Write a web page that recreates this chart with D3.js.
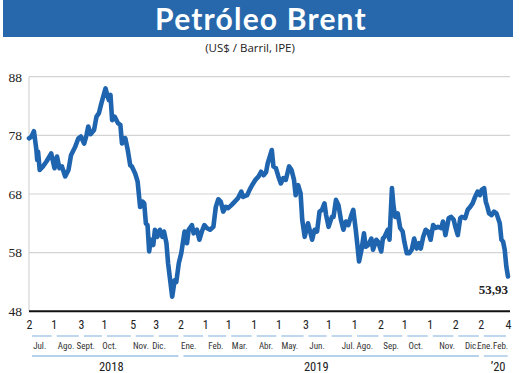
<!DOCTYPE html>
<html>
<head>
<meta charset="utf-8">
<script src="https://cdn.jsdelivr.net/npm/d3@7"></script>
<style>
  html, body { margin: 0; padding: 0; background: #fff; }
  svg { display: block; }
</style>
</head>
<body>
<div id="chart"></div>
<script>
// ---- data ----
const title = "Petróleo Brent";
const subtitle = "(US$ / Barril, IPE)";
const dates = [
"2018-07-02","2018-07-05","2018-07-08","2018-07-11","2018-07-12","2018-07-13","2018-07-15","2018-07-19","2018-07-23","2018-07-29",
"2018-08-02","2018-08-05","2018-08-08","2018-08-11","2018-08-15","2018-08-19","2018-08-22","2018-08-27","2018-08-31",
"2018-09-03","2018-09-07","2018-09-10","2018-09-12","2018-09-15","2018-09-19","2018-09-22","2018-09-25","2018-09-28",
"2018-10-03","2018-10-05","2018-10-07","2018-10-09","2018-10-11","2018-10-14","2018-10-18","2018-10-21","2018-10-23","2018-10-27","2018-10-30",
"2018-11-02","2018-11-04","2018-11-08","2018-11-11","2018-11-14","2018-11-17","2018-11-19","2018-11-21","2018-11-23","2018-11-25","2018-11-27","2018-11-30",
"2018-12-02","2018-12-05","2018-12-08","2018-12-11","2018-12-13","2018-12-16","2018-12-18","2018-12-20","2018-12-23","2018-12-26","2018-12-28","2018-12-31",
"2019-01-03","2019-01-07","2019-01-10","2019-01-12","2019-01-16","2019-01-18","2019-01-22","2019-01-25","2019-01-28","2019-01-31",
"2019-02-03","2019-02-07","2019-02-11","2019-02-14","2019-02-17","2019-02-20","2019-02-23","2019-02-26",
"2019-03-01","2019-03-05","2019-03-09","2019-03-13","2019-03-17","2019-03-19","2019-03-24","2019-03-27","2019-03-30",
"2019-04-03","2019-04-07","2019-04-10","2019-04-13","2019-04-16","2019-04-18","2019-04-21","2019-04-23","2019-04-25","2019-04-28",
"2019-05-01","2019-05-04","2019-05-07","2019-05-10","2019-05-14","2019-05-17","2019-05-20","2019-05-22","2019-05-25","2019-05-28","2019-05-30",
"2019-06-02","2019-06-06","2019-06-08","2019-06-11","2019-06-14","2019-06-17","2019-06-20","2019-06-23","2019-06-26","2019-06-28",
"2019-07-01","2019-07-05","2019-07-07","2019-07-10","2019-07-13","2019-07-16","2019-07-19","2019-07-22","2019-07-25","2019-07-28","2019-07-31",
"2019-08-03","2019-08-05","2019-08-07","2019-08-10","2019-08-13","2019-08-15","2019-08-18","2019-08-22","2019-08-24","2019-08-28","2019-08-30",
"2019-09-03","2019-09-05","2019-09-07","2019-09-11","2019-09-13","2019-09-16","2019-09-18","2019-09-20","2019-09-23","2019-09-26","2019-09-29",
"2019-10-01","2019-10-04","2019-10-07","2019-10-10","2019-10-13","2019-10-16","2019-10-19","2019-10-21","2019-10-24","2019-10-27","2019-10-30",
"2019-11-02","2019-11-05","2019-11-08","2019-11-11","2019-11-15","2019-11-17","2019-11-20","2019-11-24","2019-11-27","2019-11-30",
"2019-12-02","2019-12-05","2019-12-08","2019-12-10","2019-12-14","2019-12-17","2019-12-20","2019-12-23","2019-12-26","2019-12-29",
"2020-01-01","2020-01-03","2020-01-06","2020-01-08","2020-01-10","2020-01-12","2020-01-15","2020-01-18","2020-01-21","2020-01-25","2020-01-27","2020-01-29","2020-01-31",
"2020-02-02","2020-02-04"
];
const prices = [
77.5,77.8,78.7,75.5,73.8,75.2,72.1,72.7,73.5,74.9,
72.4,74.4,72.4,72.7,71.0,72.1,74.6,76.0,77.5,
77.8,76.6,78.1,79.5,78.2,78.9,81.2,81.8,83.5,
86.0,84.9,84.0,84.9,80.6,81.2,80.1,79.8,76.6,77.5,75.5,
72.9,72.7,71.5,70.1,65.8,66.7,66.4,63.0,62.7,58.2,60.2,59.3,
61.9,60.7,61.9,60.7,61.6,59.6,56.2,53.9,50.5,53.3,53.0,56.2,
57.9,61.6,59.6,61.9,62.7,61.3,61.9,60.2,61.6,62.7,
62.2,61.9,62.4,65.8,67.1,66.7,65.0,65.8,
65.6,66.1,66.7,67.3,68.4,67.5,67.8,68.7,69.5,
70.4,71.0,71.8,71.2,71.7,73.2,74.6,75.5,72.7,72.4,
71.0,69.8,70.7,70.4,72.7,72.1,70.4,67.8,69.5,68.1,63.6,
60.7,63.0,61.9,60.2,61.9,61.6,65.0,65.3,66.4,64.4,
62.4,64.1,64.1,67.0,66.1,63.6,61.9,63.3,62.7,64.1,65.3,
61.9,59.3,56.5,58.5,61.3,59.0,59.3,60.4,58.5,60.2,59.9,
58.2,60.4,60.7,61.9,60.2,69.0,65.8,64.1,64.7,62.2,61.6,
59.9,57.9,57.9,58.5,60.4,58.7,59.6,58.7,60.7,61.9,61.6,
60.2,62.7,62.2,62.4,62.2,63.3,61.0,63.9,64.1,63.6,
62.4,61.0,63.9,64.1,63.9,65.3,65.8,66.4,67.5,68.4,
67.8,68.7,69.0,66.7,65.8,64.7,64.4,65.0,64.7,63.0,60.2,59.9,58.5,
55.6,53.93
];
const yTicks = [48, 58, 68, 78, 88];
const dayTickDates = ["2018-07-02","2018-08-01","2018-09-03","2018-10-01","2018-11-05","2018-12-03",
  "2019-01-02","2019-02-01","2019-03-01","2019-04-01","2019-05-01","2019-06-03","2019-07-01","2019-08-01",
  "2019-09-02","2019-10-01","2019-11-01","2019-12-02","2020-01-02","2020-02-04"];
const dayTickLabels = ["2","1","3","1","5","3","2","1","1","1","1","3","1","1","2","1","1","2","2","4"];
const monthLabels = ["Jul.","Ago.","Sept.","Oct.","Nov.","Dic.","Ene.","Feb.","Mar.","Abr.","May.","Jun.",
  "Jul.","Ago.","Sep.","Oct.","Nov.","Dic.","Ene.","Feb."];
const monthLabelDates = ["2018-07-15","2018-08-16","2018-09-09","2018-10-08","2018-11-15","2018-12-07",
  "2019-01-12","2019-02-14","2019-03-15","2019-04-16","2019-05-15","2019-06-17","2019-07-25","2019-08-14",
  "2019-09-15","2019-10-15","2019-11-22","2019-12-22","2020-01-07","2020-01-26"];
const yearLabels = ["2018","2019","’20"];
const yearLabelDates = ["2018-10-10","2019-06-16","2020-01-23"];
const yearStartDates = ["2018-07-02","2019-01-02","2020-01-02"];
const yearEndDates = ["2019-01-02","2020-01-02","2020-02-06"];
const lastLabel = "53,93";

// ---- layout ----
const W = 520, H = 373;
const parse = d3.timeParse("%Y-%m-%d");
const data = dates.map((d, i) => ({ date: parse(d), value: prices[i] }));

const x = d3.scaleTime()
  .domain([parse("2018-07-02"), parse("2020-02-04")])
  .range([29, 508]);
const y = d3.scaleLinear().domain([48, 88]).range([311.3, 76.7]);

const svg = d3.select("#chart").append("svg").attr("width", W).attr("height", H);

// banner
svg.append("rect").attr("x", 3).attr("y", 0).attr("width", 510).attr("height", 37).attr("fill", "#2668ab");
svg.append("text").attr("x", 261).attr("y", 30).attr("text-anchor", "middle")
  .attr("font-family", "Lato, 'Open Sans', sans-serif").attr("font-weight", 700)
  .attr("font-size", 30).attr("letter-spacing", 1.2).attr("fill", "#fff").text(title);
svg.append("text").attr("x", 250).attr("y", 52).attr("text-anchor", "middle")
  .attr("font-family", "'Open Sans', sans-serif").attr("font-size", 11.5)
  .attr("fill", "#222").text(subtitle);

// grid
const gridG = svg.append("g");
gridG.selectAll("line").data(yTicks.filter(t => t > 48)).join("line")
  .attr("x1", 29).attr("x2", 510)
  .attr("y1", d => y(d)).attr("y2", d => y(d))
  .attr("stroke", "#d4d4d4").attr("stroke-width", 1.2);
svg.append("line").attr("x1", 29).attr("x2", 29).attr("y1", y(88)).attr("y2", y(48))
  .attr("stroke", "#d4d4d4").attr("stroke-width", 1.2);

// y labels
const yAxis = d3.axisLeft(y).tickValues(yTicks).tickSize(0).tickPadding(0);
const yg = svg.append("g").attr("transform", "translate(22,0)").call(yAxis);
yg.select(".domain").remove();
yg.selectAll("text").attr("font-family", "'Liberation Serif', 'DejaVu Serif', serif")
  .attr("font-size", 13.5).attr("fill", "#222");

// baseline
svg.append("line").attr("x1", 29).attr("x2", 510).attr("y1", y(48)).attr("y2", y(48))
  .attr("stroke", "#111").attr("stroke-width", 2);

// line
const line = d3.line().x(d => x(d.date)).y(d => y(d.value));
svg.append("path").datum(data).attr("d", line)
  .attr("fill", "none").attr("stroke", "#1f64ae").attr("stroke-width", 4.6)
  .attr("stroke-linejoin", "round").attr("stroke-linecap", "round");

// last value label
const last = data[data.length - 1];
svg.append("text").attr("x", x(last.date)).attr("y", 294).attr("text-anchor", "end")
  .attr("font-family", "'Liberation Serif', serif").attr("font-weight", 700)
  .attr("font-size", 13).attr("fill", "#222").text(lastLabel);

// x axis: day numbers
const condensed = "'Liberation Sans Narrow', 'Roboto Condensed', 'DejaVu Sans Condensed', 'Open Sans', sans-serif";
const tickDs = dayTickDates.map(parse);
const xAxis = d3.axisBottom(x).tickValues(tickDs).tickSize(0).tickPadding(0)
  .tickFormat((d, i) => dayTickLabels[i]);
const xg = svg.append("g").attr("transform", "translate(0,320)").call(xAxis);
xg.select(".domain").remove();
xg.selectAll("text").attr("font-family", condensed).attr("font-size", 12)
  .attr("fill", "#222").attr("dy", "0.71em");

// month underline segments
const segs = tickDs.slice(0, -1).map((d, i) => [d, tickDs[i + 1]]);
svg.append("g").selectAll("line").data(segs).join("line")
  .attr("x1", d => x(d[0]) + 3).attr("x2", d => x(d[1]) - 2)
  .attr("y1", 336).attr("y2", 336)
  .attr("stroke", "#9dc3e6").attr("stroke-width", 1.3);

// month labels
svg.append("g").selectAll("text").data(monthLabels).join("text")
  .attr("x", (d, i) => x(parse(monthLabelDates[i])))
  .attr("y", 349).attr("text-anchor", "middle")
  .attr("font-family", condensed).attr("font-size", 9).attr("fill", "#333")
  .text(d => d);

// year underline segments
svg.append("g").selectAll("line").data(yearLabels).join("line")
  .attr("x1", (d, i) => x(parse(yearStartDates[i])) + 3)
  .attr("x2", (d, i) => Math.min(x(parse(yearEndDates[i])) - 2, 510))
  .attr("y1", 356).attr("y2", 356)
  .attr("stroke", "#9dc3e6").attr("stroke-width", 1.3);

// year labels
svg.append("g").selectAll("text").data(yearLabels).join("text")
  .attr("x", (d, i) => x(parse(yearLabelDates[i])))
  .attr("y", 371).attr("text-anchor", "middle")
  .attr("font-family", condensed).attr("font-size", 12.5).attr("fill", "#222")
  .text(d => d);
</script>
</body>
</html>
